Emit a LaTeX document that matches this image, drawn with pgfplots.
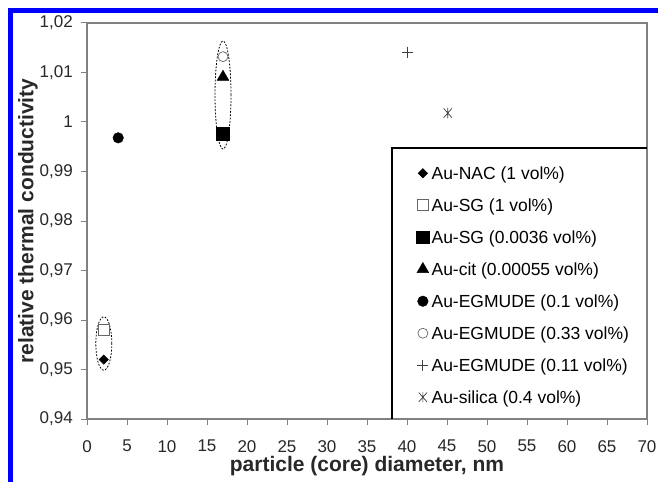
\documentclass[border=0pt]{standalone}
\usepackage{fontspec}
\setmainfont{Liberation Sans}
\usepackage{pgfplots}
\pgfplotsset{compat=1.18}
\pgfdeclareplotmark{xstar}{%
  \pgfpathmoveto{\pgfqpoint{0pt}{\pgfplotmarksize}}\pgfpathlineto{\pgfqpoint{0pt}{-\pgfplotmarksize}}%
  \pgfpathmoveto{\pgfqpoint{-.8\pgfplotmarksize}{.9\pgfplotmarksize}}\pgfpathlineto{\pgfqpoint{.8\pgfplotmarksize}{-.9\pgfplotmarksize}}%
  \pgfpathmoveto{\pgfqpoint{-.8\pgfplotmarksize}{-.9\pgfplotmarksize}}\pgfpathlineto{\pgfqpoint{.8\pgfplotmarksize}{.9\pgfplotmarksize}}%
  \pgfusepathqstroke}
\definecolor{frameblue}{RGB}{0,0,255}
\definecolor{axgray}{RGB}{128,128,128}
\definecolor{txtgray}{RGB}{40,40,40}
\begin{document}
\begin{tikzpicture}
\fill[white] (0,0) rectangle (658pt,482pt);
\fill[frameblue] (7.5pt,0pt) rectangle (12.5pt,473.5pt);
\fill[frameblue] (7.5pt,468.5pt) rectangle (658pt,473.5pt);
\begin{axis}[
  at={(87pt,63pt)}, anchor=south west,
  scale only axis, width=560pt, height=396pt,
  xmin=0, xmax=70, ymin=0.94, ymax=1.02,
  xtick={0,5,...,70},
  ytick={0.94,0.95,0.96,0.97,0.98,0.99,1,1.01,1.02},
  /pgf/number format/assume math mode=true,
  /pgf/number format/.cd, use comma, fixed, precision=2, /pgfplots/.cd,
  tick align=outside, tick pos=left,
  major tick length=6pt,
  tick style={axgray, line width=1pt},
  axis line style={axgray, line width=1.2pt},
  ticklabel style={font=\fontsize{17}{20}\selectfont, text=txtgray},
  yticklabel style={inner sep=0pt, xshift=-8pt},
  xticklabel style={inner sep=0pt, yshift=-15pt},
  xlabel={particle (core) diameter, nm},
  ylabel={relative thermal conductivity},
  label style={font=\bfseries\fontsize{21}{24}\selectfont, text=txtgray, inner sep=0pt},
  xlabel style={at={(axis description cs:0.5,-0.1187)}, anchor=center},
  ylabel style={at={(axis description cs:-0.1054,0.5)}, anchor=center},
  legend cell align=left,
  legend image code/.code={\draw[mark repeat=2,mark phase=2,#1] plot coordinates {(-1pt,0pt) (0pt,0pt) (1pt,0pt)};},
  legend style={at={(axis cs:41.16,0.99141)}, anchor=north west, draw=none, fill=none,
    inner sep=0pt, row sep=15pt, column sep=2.3pt,
    font=\fontsize{17.5}{21}\selectfont,
    nodes={inner sep=0pt, text height=15pt, text depth=2pt}},
]
\draw[black, line width=2.5pt] (axis cs:38.1,0.94) -- (axis cs:38.1,0.99475) -- (axis cs:70,0.99475);
\addplot[only marks, mark=square*, mark size=3.3pt, mark options={rotate=45, fill=black, draw=black}] coordinates {(2.1,0.952)};
\addlegendentry{Au-NAC (1 vol\%)}
\addplot[only marks, mark=square, mark size=5.5pt, mark options={draw=gray!80!black, line width=0.8pt}] coordinates {(2.1,0.958)};
\addlegendentry{Au-SG (1 vol\%)}
\addplot[only marks, mark=square*, mark size=6.4pt, mark options={fill=black, draw=black}] coordinates {(17,0.9977)};
\addlegendentry{Au-SG (0.0036 vol\%)}
\addplot[only marks, mark=triangle*, mark size=6.8pt, mark options={fill=black, draw=black}] coordinates {(17,1.0091)};
\addlegendentry{Au-cit (0.00055 vol\%)}
\addplot[only marks, mark=*, mark size=5.3pt, mark options={fill=black, draw=black}] coordinates {(3.9,0.9968)};
\addlegendentry{Au-EGMUDE (0.1 vol\%)}
\addplot[only marks, mark=o, mark size=5pt, mark options={draw=gray!80!black, line width=0.7pt}] coordinates {(17,1.0132)};
\addlegendentry{Au-EGMUDE (0.33 vol\%)}
\addplot[only marks, mark=+, mark size=5.5pt, mark options={draw=gray!50!black, line width=0.8pt}] coordinates {(40.1,1.0141)};
\addlegendentry{Au-EGMUDE (0.11 vol\%)}
\addplot[only marks, mark=xstar, mark size=5.2pt, mark options={draw=gray!50!black, line width=0.7pt}] coordinates {(45.1,1.0018)};
\addlegendentry{Au-silica (0.4 vol\%)}
\draw[black, line width=0.8pt, dash pattern=on 1.8pt off 1.5pt] (axis cs:17,1.00545) ellipse [x radius=8pt, y radius=54pt];
\draw[black, line width=0.8pt, dash pattern=on 1.8pt off 1.5pt] (axis cs:2.1,0.95525) ellipse [x radius=8pt, y radius=26.7pt];
\end{axis}
\pgfresetboundingbox
\path (0,0) rectangle (658pt,482pt);
\end{tikzpicture}
\end{document}
